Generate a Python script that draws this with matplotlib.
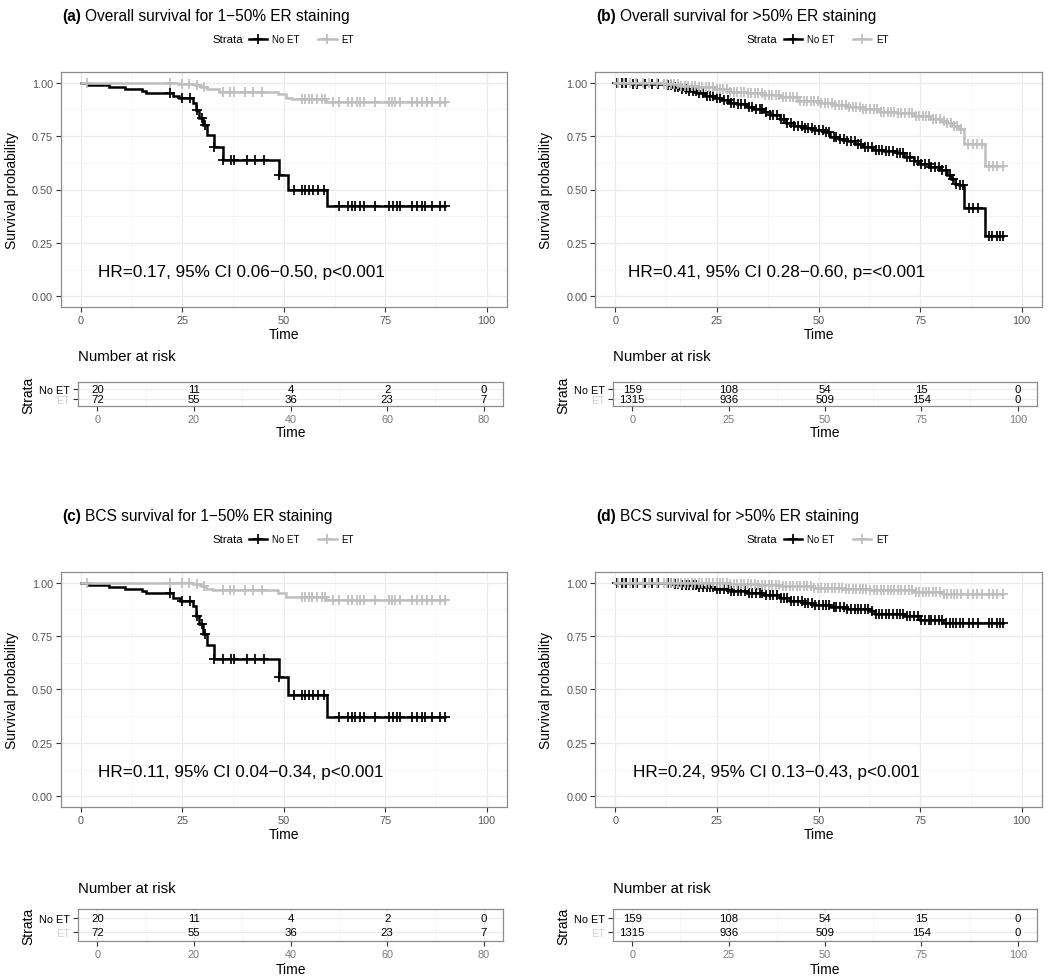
import numpy as np
import matplotlib
matplotlib.use('Agg')
import matplotlib.pyplot as plt
from matplotlib.lines import Line2D

plt.rcParams['font.family'] = ['Liberation Sans', 'DejaVu Sans']

W, H = 1050, 979
BLACK = '#000000'
GREY = '#bebebe'

# ---------------- data ----------------
strata = ['No ET', 'ET']
tags = ['(a)', '(b)', '(c)', '(d)']
titles = ['Overall survival for 1\u221250% ER staining',
          'Overall survival for >50% ER staining',
          'BCS survival for 1\u221250% ER staining',
          'BCS survival for >50% ER staining']
hr_texts = ['HR=0.17, 95% CI 0.06\u22120.50, p<0.001',
            'HR=0.41, 95% CI 0.28\u22120.60, p=<0.001',
            'HR=0.11, 95% CI 0.04\u22120.34, p<0.001',
            'HR=0.24, 95% CI 0.13\u22120.43, p<0.001']
hr_x = [4.2, 3.2, 4.1, 4.4]
hr_y = [0.117, 0.117, 0.115, 0.115]

# (a) overall survival, 1-50%
a_noet_t = [0, 1.5, 6.8, 10.9, 15.0, 16.1, 22.7, 24.1, 27.7, 28.3, 29.2, 30.0, 31.0, 32.7, 34.9, 48.9, 50.9, 60.6]
a_noet_s = [1.0, 0.989, 0.981, 0.970, 0.962, 0.953, 0.938, 0.927, 0.904, 0.873, 0.835, 0.800, 0.756, 0.699, 0.640, 0.570, 0.500, 0.422]
a_et_t = [0, 24.0, 28.0, 29.5, 31.0, 34.0, 48.5, 50.5, 52.0, 60.5]
a_et_s = [1.0, 0.995, 0.988, 0.980, 0.972, 0.957, 0.946, 0.930, 0.925, 0.911]
# (c) breast-cancer-specific survival, 1-50%
c_noet_t = [0, 1.9, 6.8, 10.9, 15.0, 16.1, 22.7, 24.5, 27.7, 28.3, 29.2, 30.0, 31.0, 32.7, 48.9, 50.9, 60.6]
c_noet_s = [1.0, 0.989, 0.981, 0.972, 0.963, 0.954, 0.930, 0.915, 0.892, 0.845, 0.806, 0.760, 0.709, 0.644, 0.559, 0.474, 0.370]
c_et_t = [0, 27.7, 29.5, 30.8, 32.5, 48.5, 50.5, 60.5]
c_et_s = [1.0, 0.992, 0.985, 0.972, 0.964, 0.954, 0.935, 0.918]
ac_end = 89.6
ac_noet_cens = [22.0, 24.9, 26.9, 28.6, 29.8, 30.6, 32.7, 34.9, 36.9, 37.6, 40.9, 42.9, 45.0, 48.9, 52.4,
                54.4, 55.3, 56.1, 57.3, 58.5, 59.8, 63.5, 65.9, 66.7, 67.6, 68.8, 69.8, 72.5, 75.8, 77.0,
                77.8, 78.7, 81.5, 82.8, 84.0, 84.8, 86.5, 88.5, 89.6]
ac_et_cens = [1.5, 22.0, 24.9, 26.5, 28.6, 30.2, 35.1, 36.8, 37.6, 40.5, 42.5, 44.6, 54.4, 55.3, 56.1, 56.9,
              58.1, 59.4, 60.2, 62.2, 63.5, 65.9, 66.7, 68.0, 68.8, 69.8, 72.5, 75.8, 76.6, 77.4, 78.7,
              81.5, 82.8, 84.0, 85.2, 86.5, 88.5, 89.6]

# (b) overall survival, >50%
b_noet_t = [0, 4, 8, 12.7, 14, 16, 18, 20, 22, 24.2, 26, 28.3, 30, 32.4, 34, 36.5, 38, 40.6, 42, 43.9, 46,
            48.8, 51.2, 52.9, 55, 57, 59, 61, 63.5, 66, 69.3, 71, 73.4, 75, 77.5, 80, 81.6, 82.6, 83.6, 84.5,
            85.8, 91.0]
b_noet_s = [1.0, 0.995, 0.992, 0.989, 0.978, 0.969, 0.960, 0.950, 0.940, 0.930, 0.918, 0.907, 0.898, 0.888,
            0.877, 0.865, 0.850, 0.829, 0.812, 0.795, 0.787, 0.780, 0.767, 0.745, 0.735, 0.725, 0.712, 0.699,
            0.686, 0.678, 0.670, 0.652, 0.632, 0.620, 0.606, 0.593, 0.570, 0.550, 0.528, 0.519, 0.413, 0.283]
b_et_t = [0, 6, 12, 16, 20, 24.2, 28.3, 32.4, 36.5, 40.6, 44.7, 50.4, 53.7, 57, 61, 65.2, 69.3, 73.4, 77.5,
          80, 81.6, 83, 84.5, 85.8, 91.0]
b_et_s = [1.0, 0.997, 0.993, 0.985, 0.978, 0.969, 0.958, 0.950, 0.943, 0.932, 0.916, 0.907, 0.896, 0.885,
          0.876, 0.865, 0.857, 0.845, 0.829, 0.820, 0.810, 0.795, 0.785, 0.712, 0.612]
# (d) breast-cancer-specific survival, >50%
d_noet_t = [0, 8, 14, 16, 20, 24.2, 28.3, 32.4, 36.5, 40.6, 43, 46, 48.8, 52.9, 57, 62.7, 64, 71, 75, 80.7]
d_noet_s = [1.0, 0.997, 0.993, 0.988, 0.981, 0.969, 0.961, 0.954, 0.941, 0.930, 0.912, 0.903, 0.895, 0.884,
            0.876, 0.868, 0.853, 0.842, 0.827, 0.811]
d_et_t = [0, 16, 28.3, 35, 40.6, 48.8, 56, 62.7, 73.4, 80.7]
d_et_s = [1.0, 0.997, 0.994, 0.990, 0.985, 0.977, 0.971, 0.966, 0.958, 0.949]
bd_end = 95.5
bd_noet_cens = [0.3, 1.6, 2.7, 4.3, 5.4, 7.3, 9.1, 10.6, 12.9, 13.8, 14.6, 15.5, 16.3, 17.3, 18.1, 19.0, 19.9,
                20.6, 21.5, 22.5, 23.2, 24.1, 25.1, 25.8, 26.7, 27.7, 28.4, 29.3, 30.3, 31.0, 31.9, 32.9,
                33.6, 34.5, 35.5, 36.2, 37.1, 38.1, 38.8, 39.7, 40.7, 41.4, 42.3, 43.3, 44.0, 44.9, 45.9,
                46.6, 47.5, 48.5, 49.2, 50.1, 51.1, 51.8, 52.7, 53.7, 54.4, 55.3, 56.3, 57.0, 57.9, 58.9,
                59.6, 60.5, 61.5, 62.2, 63.1, 64.1, 64.8, 65.7, 66.7, 67.4, 68.3, 69.3, 70.0, 70.9, 71.9,
                72.6, 73.5, 74.5, 75.2, 76.1, 77.1, 77.8, 78.7, 79.7, 80.4, 81.3, 82.3, 83.0, 83.9, 84.9,
                85.5, 87.0, 88.0, 89.3, 91.9, 92.8, 93.9, 94.7, 95.5]
bd_et_cens = [0.6, 2.2, 3.5, 5.0, 6.8, 8.4, 10.2, 12.0, 12.8, 13.7, 14.5, 15.4, 16.2, 17.1, 18.0, 18.8, 19.7,
              20.5, 21.4, 22.3, 23.1, 24.0, 24.9, 25.7, 26.6, 27.4, 28.3, 29.2, 30.0, 30.9, 31.7, 32.6,
              33.5, 34.3, 35.2, 36.0, 36.9, 37.8, 38.6, 39.5, 40.3, 41.2, 42.1, 42.9, 43.8, 44.6, 45.5,
              46.4, 47.2, 48.1, 48.9, 49.8, 50.7, 51.5, 52.4, 53.2, 54.1, 55.0, 55.8, 56.7, 57.5, 58.4,
              59.3, 60.1, 61.0, 61.8, 62.7, 63.6, 64.4, 65.3, 66.1, 67.0, 67.9, 68.7, 69.6, 70.4, 71.3,
              72.2, 73.0, 73.9, 74.7, 75.6, 76.5, 77.3, 78.2, 79.0, 79.9, 80.8, 81.6, 82.5, 83.3, 84.2,
              85.1, 86.8, 87.9, 89.0, 90.2, 92.0, 93.0, 94.0, 95.5]

# number at risk tables
ac_risk_times = [0, 20, 40, 60, 80]
ac_risk_noet = [20, 11, 4, 2, 0]
ac_risk_et = [72, 55, 36, 23, 7]
bd_risk_times = [0, 25, 50, 75, 100]
bd_risk_noet = [159, 108, 54, 15, 0]
bd_risk_et = [1315, 936, 509, 154, 0]

panels = [
    dict(curves=[(a_noet_t, a_noet_s, ac_noet_cens, ac_end), (a_et_t, a_et_s, ac_et_cens, ac_end)],
         risk=(ac_risk_times, ac_risk_noet, ac_risk_et), rlim=(-4, 84)),
    dict(curves=[(b_noet_t, b_noet_s, bd_noet_cens, bd_end), (b_et_t, b_et_s, bd_et_cens, bd_end)],
         risk=(bd_risk_times, bd_risk_noet, bd_risk_et), rlim=(-5, 105)),
    dict(curves=[(c_noet_t, c_noet_s, ac_noet_cens, ac_end), (c_et_t, c_et_s, ac_et_cens, ac_end)],
         risk=(ac_risk_times, ac_risk_noet, ac_risk_et), rlim=(-4, 84)),
    dict(curves=[(d_noet_t, d_noet_s, bd_noet_cens, bd_end), (d_et_t, d_et_s, bd_et_cens, bd_end)],
         risk=(bd_risk_times, bd_risk_noet, bd_risk_et), rlim=(-5, 105)),
]
colors = [BLACK, GREY]

# ---------------- layout (pixels) ----------------
main_boxes = [(60.7, 73, 507, 308), (595, 73, 1042, 308),
              (60.7, 573, 507, 808), (595, 573, 1042, 808)]
risk_boxes = [(78, 383, 503, 407), (613, 383, 1037, 407),
              (78, 910, 503, 942), (613, 910, 1037, 942)]
title_y = [16, 16, 516, 516]
legend_y = [40, 40, 540, 540]
risk_title_y = [357, 357, 889, 889]
risk_xlabel_y = [433, 433, 970, 970]

fig = plt.figure(figsize=(W / 100, H / 100), dpi=100)
fig.patch.set_facecolor('white')


def fx(x):
    return x / W


def fy(y):
    return 1 - y / H


def add_axes(box):
    l, t, r, b = box
    return fig.add_axes([fx(l), fy(b), (r - l) / W, (b - t) / H])


def surv_at(t, times, surv):
    idx = np.searchsorted(times, t, side='right') - 1
    return np.asarray(surv)[idx]


def style_bw(ax, labelcolor):
    ax.set_facecolor('white')
    for s in ax.spines.values():
        s.set_color('#8c8c8c')
        s.set_linewidth(0.9)
    ax.grid(which='major', color='#ebebeb', lw=0.9)
    ax.grid(which='minor', color='#f5f5f5', lw=0.6)
    ax.set_axisbelow(True)
    ax.tick_params(which='minor', length=0)
    ax.tick_params(which='major', length=3.5, width=0.8, color='#333333',
                   labelsize=7.8, labelcolor=labelcolor, pad=2)


for i, p in enumerate(panels):
    ax = add_axes(main_boxes[i])
    style_bw(ax, '#555555')
    ax.set_xlim(-5, 105)
    ax.set_ylim(-0.05, 1.05)
    ax.set_xticks([0, 25, 50, 75, 100])
    ax.set_xticks([12.5, 37.5, 62.5, 87.5], minor=True)
    ax.set_yticks([0, 0.25, 0.5, 0.75, 1.0])
    ax.set_yticklabels(['0.00', '0.25', '0.50', '0.75', '1.00'])
    ax.set_yticks([0.125, 0.375, 0.625, 0.875], minor=True)
    for (t, s, cens, end), col in zip(p['curves'], colors):
        tt = list(t) + [end]
        ss = list(s) + [s[-1]]
        ax.step(tt, ss, where='post', color=col, lw=1.8, solid_joinstyle='miter')
        cens = np.asarray(cens)
        ax.plot(cens, surv_at(cens, t, s), linestyle='none', marker='+', ms=6.8,
                mew=1.25, color=col)
    ax.text(hr_x[i], hr_y[i], hr_texts[i], fontsize=12.3, ha='left', va='center')
    ax.set_xlabel('Time', fontsize=10, labelpad=1.5)
    ax.set_ylabel('Survival probability', fontsize=10)
    ax.yaxis.set_label_coords(-0.094, 0.5)

    # title: bold tag + text
    l = main_boxes[i][0] + 1.5
    t1 = fig.text(fx(l), fy(title_y[i]), tags[i], fontsize=11.2, fontweight='bold',
                  ha='left', va='center')
    ax.annotate(titles[i], xy=(1, 0.5), xycoords=t1, xytext=(3, 0), textcoords='offset points',
                fontsize=11.2, ha='left', va='center', annotation_clip=False)

    # legend
    cx = (main_boxes[i][0] + main_boxes[i][2]) / 2
    fig.text(fx(cx - 41), fy(legend_y[i]), 'Strata', fontsize=8.2, ha='right', va='center')
    handles = [Line2D([], [], color=c, lw=1.8, marker='+', ms=6.8, mew=1.25) for c in colors]
    fig.legend(handles, strata, loc='center left', bbox_to_anchor=(fx(cx - 35), fy(legend_y[i])),
               ncol=2, frameon=False, fontsize=7, handlelength=1.9, handletextpad=0.5,
               columnspacing=1.9, borderpad=0, borderaxespad=0, numpoints=1)

    # risk table
    rt, rn, re = p['risk']
    rax = add_axes(risk_boxes[i])
    style_bw(rax, '#7a7a7a')
    rax.set_xlim(*p['rlim'])
    rax.set_ylim(0.4, 2.6)
    rax.set_xticks(rt)
    step = rt[1] - rt[0]
    rax.set_xticks([x + step / 2 for x in rt[:-1]] + ([rt[-1] + step / 2] if rt[-1] + step / 2 < p['rlim'][1] else []), minor=True)
    rax.set_yticks([2, 1])
    rax.set_yticklabels(strata, fontsize=7.8)
    rax.grid(which='minor', axis='y', visible=False)
    for lab, c in zip(rax.get_yticklabels(), [BLACK, '#d0d0d0']):
        lab.set_color(c)
    for row, vals in zip([2, 1], [rn, re]):
        for x, v in zip(rt, vals):
            rax.text(x, row, str(v), fontsize=8.2, ha='center', va='center')
    l, t, r, b = risk_boxes[i]
    fig.text(fx(l), fy(risk_title_y[i]), 'Number at risk', fontsize=10.8, ha='left', va='center')
    fig.text(fx(l - 50), fy((t + b) / 2), 'Strata', fontsize=10, rotation=90, ha='center', va='center')
    fig.text(fx((l + r) / 2), fy(risk_xlabel_y[i]), 'Time', fontsize=10, ha='center', va='center')

fig.savefig('out.png', dpi=100, facecolor='white')
